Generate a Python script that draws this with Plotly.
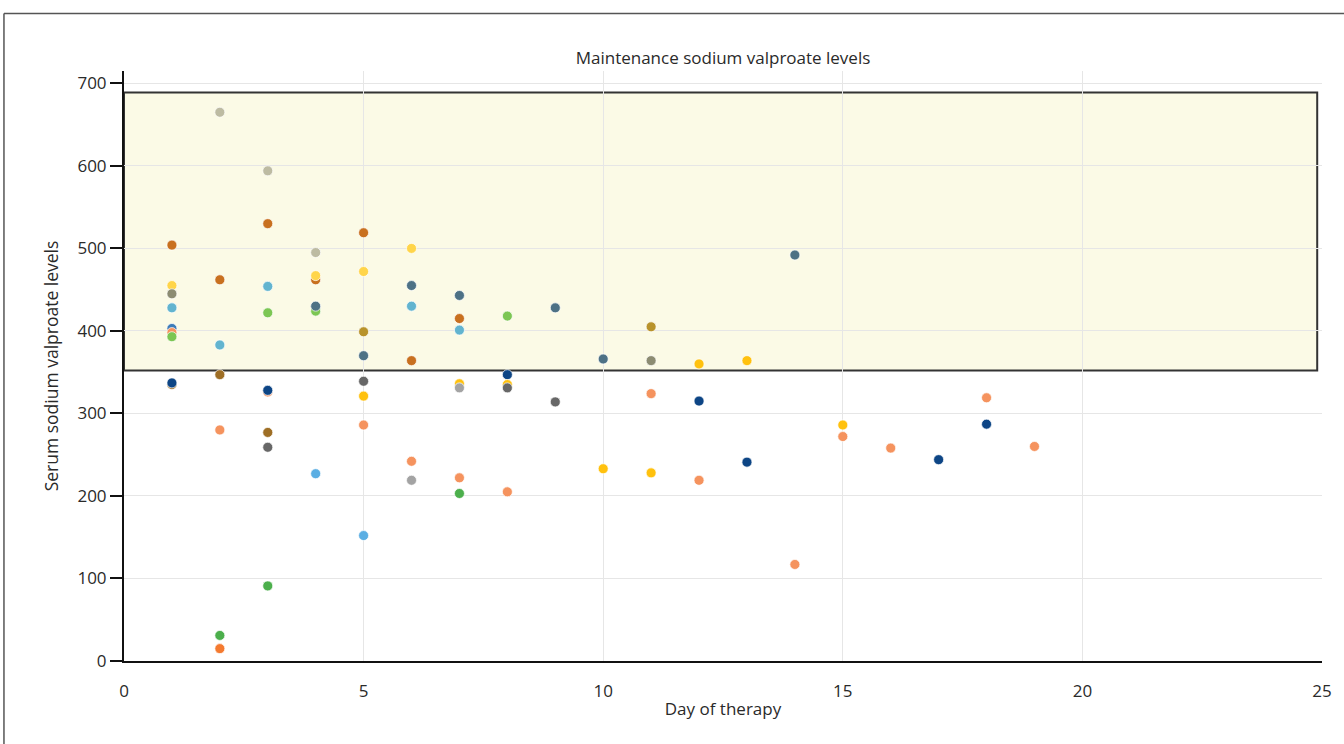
import plotly.graph_objects as go

# Each series: (name, colour, days, levels)
days_orange = [1, 2, 3, 4, 5, 6, 7]
lvl_orange = [504, 462, 530, 462, 519, 364, 415]

days_beige = [2, 3, 4]
lvl_beige = [665, 594, 495]

days_lyellow = [1, 4, 5, 6]
lvl_lyellow = [455, 467, 472, 500]

days_amber = [5, 7, 8, 10, 11, 12, 13, 15]
lvl_amber = [321, 336, 335, 233, 228, 360, 364, 286]

days_grayolive = [1, 11]
lvl_grayolive = [445, 364]

days_lblue = [1, 2, 3, 6, 7]
lvl_lblue = [428, 383, 454, 430, 401]

days_skyblue = [4, 5]
lvl_skyblue = [227, 152]

days_blue = [1]
lvl_blue = [403]

days_salmon = [1, 2, 3, 5, 6, 7, 8, 11, 12, 14, 15, 16, 18, 19]
lvl_salmon = [398, 280, 326, 286, 242, 222, 205, 324, 219, 117, 272, 258, 319, 260]

days_lgreen = [1, 3, 4, 8]
lvl_lgreen = [393, 422, 424, 418]

days_green = [2, 3, 7]
lvl_green = [31, 91, 203]

days_bright_orange = [2]
lvl_bright_orange = [15]

days_navy = [1, 3, 8, 12, 13, 17, 18]
lvl_navy = [337, 328, 347, 315, 241, 244, 287]

days_brown = [1, 2, 3]
lvl_brown = [335, 347, 277]

days_olive = [5, 11]
lvl_olive = [399, 405]

days_slate = [4, 5, 6, 7, 9, 10, 14]
lvl_slate = [430, 370, 455, 443, 428, 366, 492]

days_dgray = [3, 5, 8, 9]
lvl_dgray = [259, 339, 331, 314]

days_gray = [6, 7]
lvl_gray = [219, 331]

therapeutic_low = 352
therapeutic_high = 689

series = [
    ("beige", "#BDBBA2", days_beige, lvl_beige),
    ("orange", "#C8701F", days_orange, lvl_orange),
    ("lightyellow", "#FFD54A", days_lyellow, lvl_lyellow),
    ("grayolive", "#8C8C72", days_grayolive, lvl_grayolive),
    ("lightblue", "#62B4CF", days_lblue, lvl_lblue),
    ("skyblue", "#5AAEE3", days_skyblue, lvl_skyblue),
    ("blue", "#3D7CB8", days_blue, lvl_blue),
    ("salmon", "#F5935E", days_salmon, lvl_salmon),
    ("lightgreen", "#7CC653", days_lgreen, lvl_lgreen),
    ("green", "#4CAF4C", days_green, lvl_green),
    ("brightorange", "#F47A30", days_bright_orange, lvl_bright_orange),
    ("brown", "#9E6E25", days_brown, lvl_brown),
    ("navy", "#0D4585", days_navy, lvl_navy),
    ("olive", "#B8932B", days_olive, lvl_olive),
    ("slate", "#4D7185", days_slate, lvl_slate),
    ("amber", "#FFC10E", days_amber, lvl_amber),
    ("darkgray", "#676767", days_dgray, lvl_dgray),
    ("gray", "#A3A3A3", days_gray, lvl_gray),
]

fig = go.Figure()
for name, color, xs, ys in series:
    fig.add_trace(go.Scatter(
        x=xs, y=ys, mode="markers", name=name,
        marker=dict(color=color, size=10, line=dict(color="rgba(255,255,255,0.7)", width=1)),
        showlegend=False,
    ))

fig.add_shape(type="rect", xref="x", yref="y", x0=0, x1=24.9,
              y0=therapeutic_low, y1=therapeutic_high,
              fillcolor="#FBFAE6", line=dict(color="#333333", width=2), layer="below")

# outer frame lines
fig.add_shape(type="line", xref="paper", yref="paper", x0=-0.1002, x1=-0.1002, y0=1.0976, y1=-0.2,
              line=dict(color="#555555", width=1.5))
fig.add_shape(type="line", xref="paper", yref="paper", x0=-0.1002, x1=1.05, y0=1.0976, y1=1.0976,
              line=dict(color="#555555", width=1.5))

font_family = "Open Sans"
fig.update_layout(
    width=1344, height=744,
    margin=dict(l=124, r=22, t=71, b=83),
    paper_bgcolor="white", plot_bgcolor="white",
    font=dict(family=font_family, size=17, color="#2a2a2a"),
    title=dict(text="Maintenance sodium valproate levels", x=0.5, xref="paper",
               y=1 - 58 / 744, yref="container", xanchor="center", yanchor="middle",
               font=dict(size=17, color="#2a2a2a")),
)
fig.update_xaxes(
    range=[0, 25], tickvals=[0, 5, 10, 15, 20, 25],
    showgrid=True, gridcolor="#E6E6E6", gridwidth=1,
    showline=True, linecolor="#111111", linewidth=2,
    ticks="", zeroline=False, ticklabelstandoff=14,
    title=dict(text="Day of therapy", standoff=2, font=dict(size=17)),
)
fig.update_yaxes(
    range=[0, 715], tickvals=[0, 100, 200, 300, 400, 500, 600, 700],
    showgrid=True, gridcolor="#E6E6E6", gridwidth=1,
    showline=True, linecolor="#111111", linewidth=2,
    ticks="outside", ticklen=12, tickcolor="#111111", tickwidth=1.5,
    zeroline=False,
    title=dict(text="Serum sodium valproate levels", standoff=14, font=dict(size=17.5)),
)

fig.write_html("out.html", config={"displayModeBar": False},
               post_script="document.body.style.margin='0';")
